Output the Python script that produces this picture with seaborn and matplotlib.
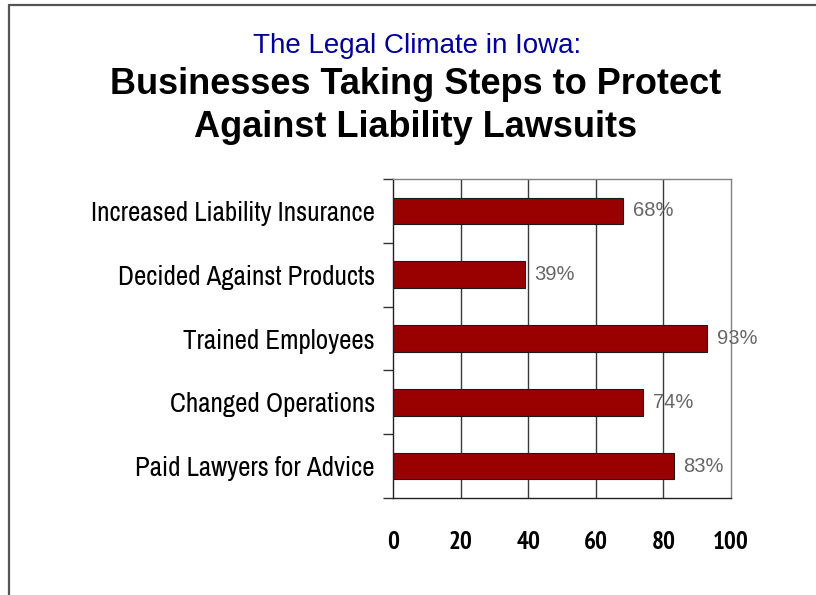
import matplotlib
matplotlib.use("Agg")
import matplotlib.pyplot as plt
from matplotlib import font_manager
from matplotlib.lines import Line2D
import seaborn as sns
import numpy as np
import pandas as pd

categories = ["Increased Liability Insurance", "Decided Against Products", "Trained Employees",
              "Changed Operations", "Paid Lawyers for Advice"]
values = [68, 39, 93, 74, 83]
xticks = [0, 20, 40, 60, 80, 100]
title_small = "The Legal Climate in Iowa:"
title_main = "Businesses Taking Steps to Protect\nAgainst Liability Lawsuits"

sns.set_theme(style="white")
fonts = font_manager.fontManager.ttflist
names = {f.name for f in fonts}
bold_names = {f.name for f in fonts if (isinstance(f.weight, int) and f.weight >= 700)
              or f.weight in ("bold", "heavy", "black")}

narrow_cands = ["Liberation Sans Narrow", "Arial Narrow", "Archivo Narrow", "PT Sans Narrow",
                "Roboto Condensed", "Pragati Narrow", "Open Sans Condensed"]


def pick(cands, pool, default="DejaVu Sans"):
    for c in cands:
        if c in pool:
            return c
    return default


narrow = pick(narrow_cands, names)
narrow_bold = pick(["Oswald"] + narrow_cands, bold_names, narrow)
plt.rcParams["font.family"] = ["Liberation Sans", "DejaVu Sans"]

df = pd.DataFrame({"cat": categories, "val": values})

fig = plt.figure(figsize=(8.16, 5.95), dpi=100)
ax = fig.add_axes([393/816, 1 - 498/595, 338/816, 319/595])

sns.barplot(data=df, x="val", y="cat", orient="h", color="#990000", saturation=1,
            edgecolor="#1a1a1a", linewidth=0.8, width=0.42, ax=ax)

ax.set_xlim(0, 100)
ax.set_ylim(len(categories) - 0.5, -0.5)
ax.set_xlabel("")
ax.set_ylabel("")
ax.set_xticks(xticks)
xsize = 17 if narrow_bold == "Oswald" else 18
ax.set_xticklabels([str(t) for t in xticks], family=narrow_bold, fontweight="bold", fontsize=xsize,
                   color="black")
ax.tick_params(axis="x", length=0, pad=24)
ax.set_yticks(range(len(categories)))
ax.set_yticklabels(categories, family=narrow, fontsize=19.4, color="black")
ax.tick_params(axis="y", which="major", length=0, pad=13)
ax.set_yticks(np.arange(-0.5, len(categories), 1.0), minor=True)
ax.tick_params(axis="y", which="minor", left=True, length=7, width=1, color="#333333")

for x in xticks[1:-1]:
    ax.axvline(x, color="#3a3a3a", lw=1, zorder=0)

for side in ["left", "bottom"]:
    ax.spines[side].set_color("#222222")
    ax.spines[side].set_linewidth(1)
for side in ["top", "right"]:
    ax.spines[side].set_color("#808080")
    ax.spines[side].set_linewidth(1)
    ax.spines[side].set_visible(True)

for c in ax.containers:
    ax.bar_label(c, labels=[f"{v}%" for v in values], padding=7, color="#666666", fontsize=14.5)

fig.text(0.511, 1 - 46/595, title_small, ha="center", va="center", color="#000099", fontsize=20)
fig.text(0.509, 1 - 106/595, title_main, ha="center", va="center", color="black",
         fontsize=26, fontweight="bold", linespacing=1.27)

# figure frame lines (top and left)
fig.add_artist(Line2D([8.5/816, 1], [1 - 5/595, 1 - 5/595], transform=fig.transFigure, color="#555555", lw=1.6))
fig.add_artist(Line2D([8.5/816, 8.5/816], [0, 1 - 5/595], transform=fig.transFigure, color="#555555", lw=1.6))

fig.savefig("out.png", dpi=100)
